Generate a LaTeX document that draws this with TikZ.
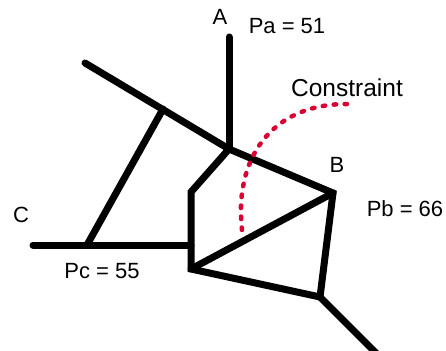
\documentclass[tikz,border=0pt]{standalone}
\usepackage{fontspec}
\setmainfont{Liberation Sans}
\definecolor{crim}{RGB}{218,0,50}
\begin{document}
\begin{tikzpicture}[x=1pt,y=-1pt,
  edge/.style={line width=7pt,line cap=round,line join=miter,black},
  constr/.style={line width=4.5pt,line cap=round,crim,dash pattern=on 2.5pt off 8.5pt},
  lbl/.style={font=\fontsize{22}{26}\selectfont,inner sep=0pt},
  biglbl/.style={font=\fontsize{24.5}{28}\selectfont,inner sep=0pt}]
\useasboundingbox (0,0) rectangle (446,350);
\coordinate (Atop) at (229,37);
\coordinate (J1) at (229,149);
\coordinate (TL) at (85,63);
\coordinate (K) at (163,109);
\coordinate (F) at (87,245);
\coordinate (Cend) at (33,245);
\coordinate (H) at (191,245);
\coordinate (B) at (333,193);
\coordinate (P1) at (191,192);
\coordinate (Q) at (191,269);
\coordinate (R) at (320,297);
\coordinate (BR) at (380,357);
\coordinate (cs) at (242,230);
\coordinate (ce) at (347,104);
% network
\draw[edge] (J1) -- (B) -- (R) -- (Q) -- (P1) -- cycle;
\draw[edge] (TL) -- (J1);
\draw[edge] (Q) -- (B);
\draw[edge] (Atop) -- (J1);
\draw[edge] (K) -- (F);
\draw[edge] (Cend) -- (H);
\draw[edge] (R) -- (BR);
% constraint
\draw[constr] (cs) .. controls (234,160) and (270,104) .. (ce);
% labels
\node[lbl] (la) at (220,17) {A};
\node[lbl] (pa) at (287,26) {Pa = 51};
\node[biglbl] (lc) at (347,88) {Constraint};
\node[lbl] (lb) at (337,165) {B};
\node[lbl] (pb) at (405,209) {Pb = 66};
\node[lbl] (lcc) at (21,215) {C};
\node[lbl] (pc) at (102,271) {Pc = 55};
\end{tikzpicture}
\end{document}
